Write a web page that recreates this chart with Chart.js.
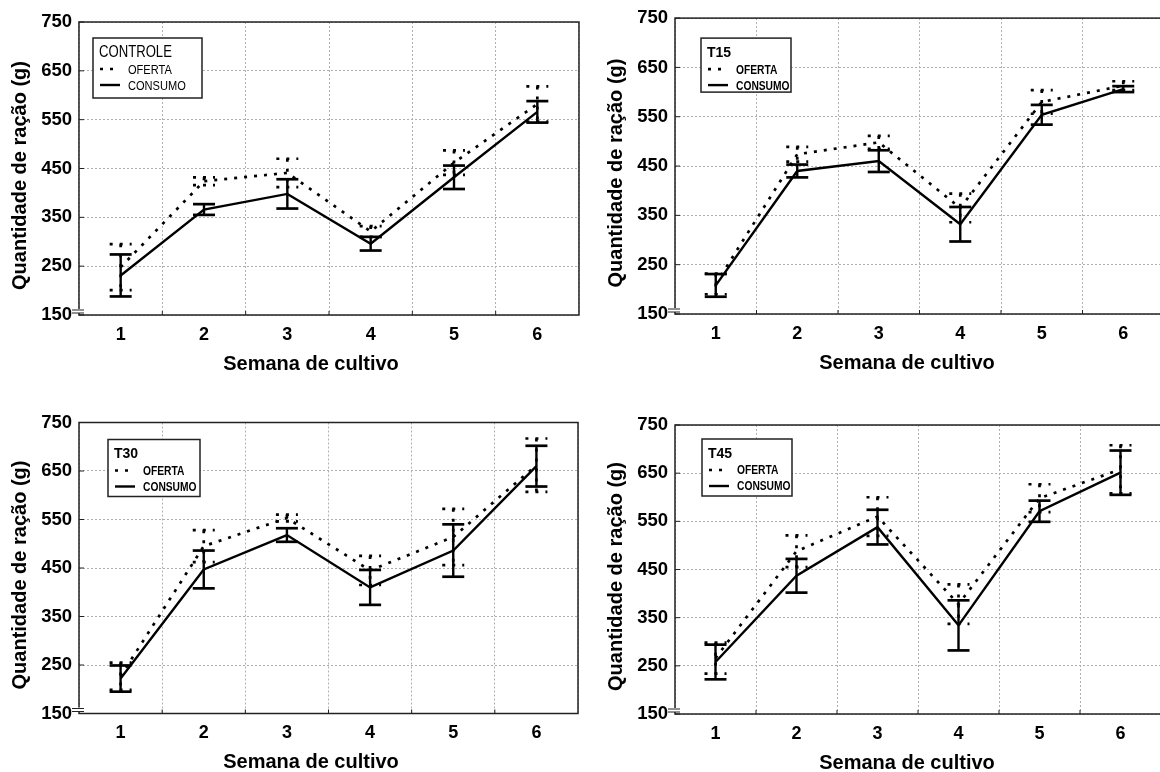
<!DOCTYPE html>
<html>
<head>
<meta charset="utf-8">
<script src="https://cdn.jsdelivr.net/npm/chart.js@4.4.1/dist/chart.umd.min.js"></script>
<style>
html, body { margin: 0; padding: 0; background: #fff; }
body { width: 1160px; height: 772px; position: relative; overflow: hidden; }
.painel { position: absolute; }
</style>
</head>
<body>
<div class="painel" style="left:0px;top:0px"><canvas id="g1" width="580" height="386"></canvas></div>
<div class="painel" style="left:580px;top:0px"><canvas id="g2" width="600" height="386"></canvas></div>
<div class="painel" style="left:0px;top:386px"><canvas id="g3" width="580" height="386"></canvas></div>
<div class="painel" style="left:580px;top:386px"><canvas id="g4" width="600" height="386"></canvas></div>
<script>
// semanas e marcas do eixo y
var semanas = ['1', '2', '3', '4', '5', '6'];
var yTicks = [150, 250, 350, 450, 550, 650, 750];

// medias e erro padrao (g)
var controleOferta = [248, 424, 441, 321, 462, 582];
var controleOfertaErr = [47, 8, 29, 11, 25, 36];
var controleConsumo = [231, 366, 398, 296, 432, 566];
var controleConsumoErr = [43, 11, 30, 14, 24, 22];

var t15Oferta = [211, 474, 498, 365, 580, 613];
var t15OfertaErr = [21, 15, 13, 29, 24, 9];
var t15Consumo = [208, 440, 460, 332, 554, 606];
var t15ConsumoErr = [23, 13, 22, 35, 20, 6];

var t30Oferta = [227, 495, 553, 445, 514, 662];
var t30OfertaErr = [28, 33, 7, 30, 58, 55];
var t30Consumo = [222, 447, 518, 410, 486, 660];
var t30ConsumoErr = [27, 39, 14, 36, 54, 42];

var t45Oferta = [266, 488, 560, 378, 598, 658];
var t45OfertaErr = [32, 33, 40, 41, 29, 50];
var t45Consumo = [258, 437, 538, 334, 571, 651];
var t45ConsumoErr = [36, 35, 36, 52, 22, 46];

var fonte = '"Liberation Sans", Arial, sans-serif';
Chart.defaults.font.family = fonte;
Chart.defaults.color = '#000';

var pontilhado = [3, 7];

var paineis = [
    { id: 'g1', titulo: 'CONTROLE', negrito: false, oferta: controleOferta, ofertaErr: controleOfertaErr,
      consumo: controleConsumo, consumoErr: controleConsumoErr,
      yw: 79, xh: 71, padTop: 22, padRight: 1, leg: { dx: 14, dy: 16, w: 109, h: 60 } },
    { id: 'g2', titulo: 'T15', negrito: true, oferta: t15Oferta, ofertaErr: t15OfertaErr,
      consumo: t15Consumo, consumoErr: t15ConsumoErr,
      yw: 95, xh: 72, padTop: 18, padRight: 16, leg: { dx: 26, dy: 20, w: 90, h: 54 } },
    { id: 'g3', titulo: 'T30', negrito: true, oferta: t30Oferta, ofertaErr: t30OfertaErr,
      consumo: t30Consumo, consumoErr: t30ConsumoErr,
      yw: 79, xh: 58.5, padTop: 36.5, padRight: 2, leg: { dx: 29, dy: 17, w: 92, h: 57 } },
    { id: 'g4', titulo: 'T45', negrito: true, oferta: t45Oferta, ofertaErr: t45OfertaErr,
      consumo: t45Consumo, consumoErr: t45ConsumoErr,
      yw: 95, xh: 58, padTop: 39, padRight: 19, leg: { dx: 27, dy: 14, w: 90, h: 57 } }
];

function linha(ctx, x1, y1, x2, y2) {
    ctx.beginPath();
    ctx.moveTo(x1, y1);
    ctx.lineTo(x2, y2);
    ctx.stroke();
}

// texto condensado (imita uma fonte estreita)
function textoEstreito(ctx, txt, x, y) {
    ctx.save();
    ctx.translate(x, y);
    ctx.scale(0.82, 1);
    ctx.fillText(txt, 0, 0);
    ctx.restore();
}

function criaGrafico(p) {
    var extras = {
        id: 'extras_' + p.id,
        beforeDatasetsDraw: function (chart) {
            var ctx = chart.ctx, a = chart.chartArea;
            var xs = chart.scales.x, ys = chart.scales.y;
            ctx.save();
            ctx.strokeStyle = '#222';
            ctx.lineWidth = 1.5;
            ctx.strokeRect(a.left, a.top, a.right - a.left, a.bottom - a.top);
            // marcas internas
            ctx.lineWidth = 1;
            yTicks.forEach(function (v) {
                var y = ys.getPixelForValue(v);
                linha(ctx, a.left, y, a.left + 5, y);
            });
            for (var j = 0; j < semanas.length - 1; j++) {
                var xm = (xs.getPixelForValue(j) + xs.getPixelForValue(j + 1)) / 2;
                linha(ctx, xm, a.bottom, xm, a.bottom - 4);
            }
            // quebra do eixo
            ctx.fillStyle = '#fff';
            ctx.fillRect(a.left - 1, a.bottom - 6, 3, 4);
            linha(ctx, a.left - 7, a.bottom - 5, a.left + 5, a.bottom - 5);
            linha(ctx, a.left - 7, a.bottom - 2, a.left + 5, a.bottom - 2);
            ctx.restore();
        },
        afterDatasetsDraw: function (chart) {
            var ctx = chart.ctx;
            var xs = chart.scales.x, ys = chart.scales.y;
            ctx.save();
            ctx.strokeStyle = '#000';
            chart.data.datasets.forEach(function (ds) {
                ctx.setLineDash(ds.borderDash || []);
                ds.data.forEach(function (v, j) {
                    var x = xs.getPixelForValue(j);
                    var yt = ys.getPixelForValue(v + ds.errors[j]);
                    var yb = ys.getPixelForValue(v - ds.errors[j]);
                    ctx.lineWidth = ds.borderWidth;
                    linha(ctx, x, yt, x, yb);
                    ctx.lineWidth = 2.7;
                    linha(ctx, x - 11, yt, x + 11, yt);
                    linha(ctx, x - 11, yb, x + 11, yb);
                });
            });
            ctx.restore();
        },
        afterDraw: function (chart) {
            var ctx = chart.ctx, a = chart.chartArea;
            ctx.save();
            // legenda
            var bx = a.left + p.leg.dx, by = a.top + p.leg.dy;
            ctx.fillStyle = '#fff';
            ctx.fillRect(bx, by, p.leg.w, p.leg.h);
            ctx.strokeStyle = '#222';
            ctx.lineWidth = 1.5;
            ctx.strokeRect(bx, by, p.leg.w, p.leg.h);
            ctx.fillStyle = '#000';
            ctx.textBaseline = 'middle';
            ctx.textAlign = 'left';
            if (p.negrito) {
                ctx.font = 'bold 14px ' + fonte;
                ctx.fillText(p.titulo, bx + 6, by + 15);
            } else {
                ctx.font = '16px ' + fonte;
                textoEstreito(ctx, p.titulo, bx + 6, by + 15);
            }
            ctx.font = (p.negrito ? 'bold 12.5px ' : '13.5px ') + fonte;
            chart.data.datasets.forEach(function (ds, i) {
                var y = by + 31 + i * 16;
                ctx.strokeStyle = '#000';
                ctx.lineWidth = ds.borderWidth;
                ctx.setLineDash(ds.borderDash || []);
                linha(ctx, bx + 7, y, bx + 27, y);
                ctx.setLineDash([]);
                textoEstreito(ctx, ds.label, bx + 35, y + 1);
            });
            // titulos dos eixos
            ctx.font = 'bold 20px ' + fonte;
            ctx.textAlign = 'center';
            ctx.fillText('Semana de cultivo', a.left + 232, a.bottom + 49);
            ctx.translate(a.left - 59, (a.top + a.bottom) / 2 + 7);
            ctx.rotate(-Math.PI / 2);
            ctx.fillText('Quantidade de ração (g)', 0, 0);
            ctx.restore();
        }
    };

    return new Chart(document.getElementById(p.id), {
        type: 'line',
        data: {
            labels: semanas,
            datasets: [
                {
                    label: 'OFERTA',
                    data: p.oferta,
                    errors: p.ofertaErr,
                    borderColor: '#000',
                    borderWidth: 2.7,
                    borderDash: pontilhado,
                    pointRadius: 0,
                    tension: 0,
                    fill: false
                },
                {
                    label: 'CONSUMO',
                    data: p.consumo,
                    errors: p.consumoErr,
                    borderColor: '#000',
                    borderWidth: 2.4,
                    pointRadius: 0,
                    tension: 0,
                    fill: false
                }
            ]
        },
        options: {
            responsive: false,
            animation: false,
            layout: { padding: { top: p.padTop, right: p.padRight, left: 0, bottom: 0 } },
            plugins: {
                legend: { display: false },
                tooltip: { enabled: false }
            },
            scales: {
                x: {
                    type: 'category',
                    offset: true,
                    grid: { offset: true, color: '#b0b0b0', lineWidth: 1, drawTicks: false },
                    border: { display: false, dash: [2, 2] },
                    ticks: { padding: 9, color: '#000', font: { size: 18, weight: 'bold' } },
                    afterFit: function (s) { s.height = p.xh; }
                },
                y: {
                    min: yTicks[0],
                    max: yTicks[yTicks.length - 1],
                    afterBuildTicks: function (s) {
                        s.ticks = yTicks.map(function (v) { return { value: v }; });
                    },
                    grid: { color: '#b0b0b0', lineWidth: 1, drawTicks: false },
                    border: { display: false, dash: [2, 2] },
                    ticks: { padding: 7, color: '#000', font: { size: 18.5, weight: 'bold' } },
                    afterFit: function (s) { s.width = p.yw; }
                }
            }
        },
        plugins: [extras]
    });
}

paineis.forEach(criaGrafico);
</script>
</body>
</html>
